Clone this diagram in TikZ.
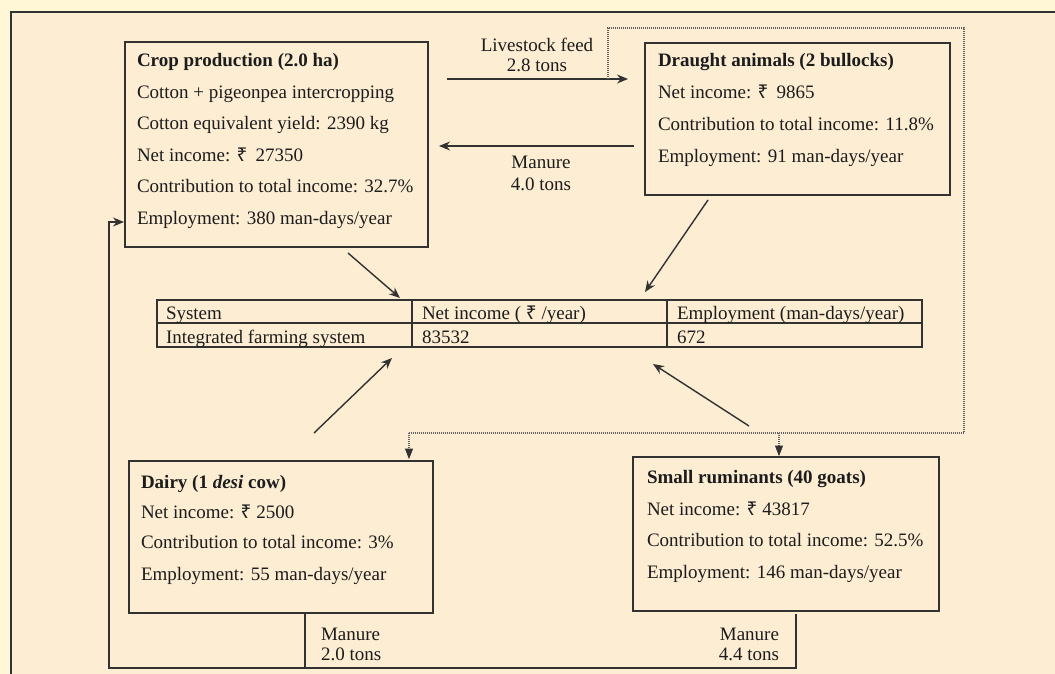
\documentclass[tikz,border=0pt]{standalone}
\usepackage{fontspec}
\setmainfont{Liberation Serif}
\newfontfamily\rupeefont{Noto Sans}
\usetikzlibrary{arrows.meta}
\newcommand{\Rs}{{\rupeefont ₹}}
\definecolor{outerbg}{RGB}{255,247,214}
\definecolor{innerbg}{RGB}{252,237,211}
\definecolor{ink}{RGB}{28,28,28}
\definecolor{linec}{RGB}{50,50,50}
\definecolor{dotc}{RGB}{95,95,95}
\begin{document}
\begin{tikzpicture}[x=1pt,y=-1pt,
  every node/.style={inner sep=0pt, outer sep=0pt, font=\fontsize{19}{22}\selectfont, text=ink},
  boxc/.style={draw=linec, line width=1.9pt, anchor=north west},
  tblbox/.style={draw=linec, line width=1.4pt, anchor=north west},
  tline/.style={draw=linec, line width=1.1pt},
  txt/.style={anchor=base west},
  txtr/.style={anchor=base east},
  lbl/.style={anchor=base},
  arr/.style={draw=linec, line width=1.4pt, -{Stealth[length=11pt,width=9pt]}},
  plain/.style={draw=linec, line width=1.4pt},
  dotline/.style={draw=dotc, line width=1.1pt, dash pattern=on 1pt off 1pt},
  tipsmall/.style={draw=linec, fill=linec, line width=0.8pt},
]
\useasboundingbox (0,0) rectangle (1055,674);
\fill[outerbg] (0,0) rectangle (1055,674);
\fill[innerbg] (11,12) rectangle (1055,674);
\draw[linec, line width=1.5pt] (11,674) -- (11,12) -- (1055,12);

% boxes
\node[boxc, minimum width=303pt, minimum height=205pt] (crop) at (125,42) {};
\node[boxc, minimum width=305pt, minimum height=152pt] (draught) at (645,43) {};
\node[boxc, minimum width=304pt, minimum height=152pt] (dairy) at (129,461) {};
\node[boxc, minimum width=306pt, minimum height=154pt] (rumin) at (633,457) {};
\node[tblbox, minimum width=765pt, minimum height=47pt] (tbl) at (157,300) {};

% crop text
\node[txt] (c1) at (137,67) {\textbf{Crop production (2.0 ha)}};
\node[txt] (c2) at (137,98.5) {Cotton + pigeonpea intercropping};
\node[txt] (c3) at (137,130) {Cotton equivalent yield: 2390 kg};
\node[txt] (c4) at (137,161.5) {Net income: \Rs~\,27350};
\node[txt] (c5) at (137,193) {Contribution to total income: 32.7\%};
\node[txt] (c6) at (137,224.5) {Employment: 380 man-days/year};

% draught text
\node[txt] (d1) at (658,67) {\textbf{Draught animals (2 bullocks)}};
\node[txt] (d2) at (658,99) {Net income: \Rs~\,9865};
\node[txt] (d3) at (658,130.5) {Contribution to total income: 11.8\%};
\node[txt] (d4) at (658,162) {Employment: 91 man-days/year};

% dairy text
\node[txt] (y1) at (141,488) {\textbf{Dairy (1 \textit{desi} cow)}};
\node[txt] (y2) at (141,518) {Net income: \Rs~2500};
\node[txt] (y3) at (141,548) {Contribution to total income: 3\%};
\node[txt] (y4) at (141,580) {Employment: 55 man-days/year};

% ruminants text
\node[txt] (r1) at (647,483) {\textbf{Small ruminants (40 goats)}};
\node[txt] (r2) at (647,515) {Net income: \Rs~43817};
\node[txt] (r3) at (647,546) {Contribution to total income: 52.5\%};
\node[txt] (r4) at (647,578) {Employment: 146 man-days/year};

% table
\coordinate (colA) at (412,0);
\coordinate (colB) at (667,0);
\coordinate (rowm) at (0,323);
\draw[tline] (tbl.west |- rowm) -- (tbl.east |- rowm);
\draw[tline] (tbl.north -| colA) -- (tbl.south -| colA);
\draw[tline] (tbl.north -| colB) -- (tbl.south -| colB);
\node[txt] (t11) at (166,319) {System};
\node[txt] (t12) at (422,319) {Net income ( \Rs\ /year)};
\node[txt] (t13) at (677,319) {Employment (man-days/year)};
\node[txt] (t21) at (166,343) {Integrated farming system};
\node[txt] (t22) at (422,343) {83532};
\node[txt] (t23) at (677,343) {672};

% labels
\node[lbl] (feedA) at (537,52) {Livestock feed};
\node[lbl] (feedB) at (537,72) {2.8 tons};
\node[lbl] (manA) at (541,168) {Manure};
\node[lbl] (manB) at (541,190) {4.0 tons};
\node[txt] (dmA) at (321,640) {Manure};
\node[txt] (dmB) at (321,660) {2.0 tons};
\node[txtr] (rmA) at (779,640) {Manure};
\node[txtr] (rmB) at (779,660) {4.4 tons};

% arrow end points
\coordinate (feedS) at (447,79);
\coordinate (feedE) at (628,79);
\coordinate (manS) at (634,146);
\coordinate (manE) at (439,146);
\coordinate (cropS) at (348,253);
\coordinate (cropE) at (400,298);
\coordinate (drS) at (708,200);
\coordinate (drE) at (645,292);
\coordinate (dyS) at (314,433);
\coordinate (dyE) at (392,358);
\coordinate (ruS) at (749,426);
\coordinate (ruE) at (653,364);

\draw[arr] (feedS) -- (feedE);
\draw[arr] (manS) -- (manE);
\draw[arr] (cropS) -- (cropE);
\draw[arr] (drS) -- (drE);
\draw[arr] (dyS) -- (dyE);
\draw[arr] (ruS) -- (ruE);

% dotted distribution path
\coordinate (dtA) at (608,79);
\coordinate (dtB) at (608,28);
\coordinate (dtC) at (964,28);
\coordinate (dtD) at (964,433);
\coordinate (dtE) at (409,433);
\coordinate (dtF) at (779,433);
\coordinate (tipE) at (409,458);
\coordinate (tipF) at (779,455);
\draw[dotline] (dtA) -- (dtB) -- (dtC) -- (dtD) -- (dtE);
\draw[dotline] (dtE) -- ([yshift=6pt]tipE);
\draw[dotline] (dtF) -- ([yshift=6pt]tipF);
\filldraw[tipsmall] (tipE) -- ++(-3.5,-9) -- ++(7,0) -- cycle;
\filldraw[tipsmall] (tipF) -- ++(-3.5,-9) -- ++(7,0) -- cycle;

% manure return path
\coordinate (mL) at (305,0);
\coordinate (mR) at (796,0);
\coordinate (bot) at (0,668);
\coordinate (lx) at (109,0);
\coordinate (ret) at (0,222);
\draw[plain] (dairy.south -| mL) -- (bot -| mL);
\draw[arr] ([yshift=-3pt]rumin.south -| mR) -- (bot -| mR) -- (bot -| lx) -- (ret -| lx) -- ([xshift=-1pt]crop.west |- ret);
\end{tikzpicture}
\end{document}
